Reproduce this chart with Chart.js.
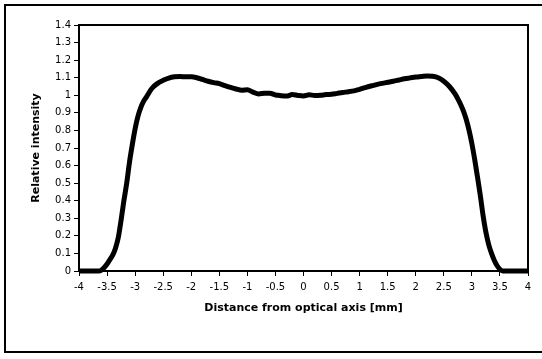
<!DOCTYPE html>
<html>
<head>
<meta charset="utf-8">
<script src="https://cdn.jsdelivr.net/npm/chart.js@4"></script>
<style>
  html, body { margin: 0; padding: 0; background: #fff; }
  body { width: 542px; height: 359px; position: relative; overflow: hidden; }
  #frame { position: absolute; left: 4px; top: 4px; width: 580px; height: 345px; border: 2px solid #000; }
  #wrap { position: absolute; left: 0; top: 0; width: 542px; height: 359px; }
</style>
</head>
<body>
<div id="frame"></div>
<div id="wrap"><canvas id="chart" width="542" height="359"></canvas></div>
<script>
// distance from optical axis [mm]
const distance = [
  -4.0, -3.8, -3.7, -3.65, -3.6, -3.55, -3.5, -3.45, -3.4, -3.35, -3.3, -3.25, -3.2, -3.15, -3.1,
  -3.05, -3.0, -2.95, -2.9, -2.85, -2.8, -2.7, -2.6, -2.5,
  -2.4, -2.3, -2.2, -2.1, -2.0, -1.9, -1.8, -1.7, -1.6, -1.5, -1.4, -1.3, -1.2, -1.1, -1.0,
  -0.9, -0.8, -0.7, -0.6, -0.5, -0.4, -0.3, -0.2, -0.1, 0.0, 0.1, 0.2, 0.3, 0.4, 0.5,
  0.6, 0.7, 0.8, 0.9, 1.0, 1.1, 1.2, 1.3, 1.4, 1.5, 1.6, 1.7, 1.8, 1.9, 2.0,
  2.1, 2.2, 2.3, 2.4, 2.5, 2.6, 2.7, 2.75, 2.8, 2.85, 2.9, 2.95, 3.0, 3.05, 3.1,
  3.15, 3.2, 3.25, 3.3, 3.35, 3.4, 3.45, 3.5, 3.55, 3.6, 3.8, 4.0
];
// relative intensity
const intensity = [
  0, 0, 0, 0, 0.005, 0.02, 0.04, 0.065, 0.09, 0.13, 0.19, 0.29, 0.40, 0.50, 0.62,
  0.72, 0.81, 0.88, 0.93, 0.965, 0.99, 1.04, 1.068, 1.085,
  1.098, 1.105, 1.107, 1.105, 1.105, 1.1, 1.09, 1.08, 1.072, 1.066, 1.055, 1.045, 1.036, 1.029, 1.031,
  1.018, 1.008, 1.011, 1.012, 1.002, 0.998, 0.996, 1.004, 0.999, 0.996, 1.003, 0.999, 1.0, 1.004, 1.006,
  1.011, 1.016, 1.02, 1.025, 1.034, 1.044, 1.053, 1.061, 1.068, 1.074, 1.08, 1.087, 1.094, 1.099, 1.104,
  1.107, 1.11, 1.108, 1.1, 1.08, 1.05, 1.008, 0.98, 0.948, 0.91, 0.862, 0.80, 0.725, 0.635, 0.535,
  0.43, 0.315, 0.22, 0.15, 0.10, 0.06, 0.03, 0.01, 0, 0, 0, 0
];

const xMin = -4, xMax = 4, xStep = 0.5;
const yMin = 0, yMax = 1.4, yStep = 0.1;

const points = distance.map((d, i) => ({ x: d, y: intensity[i] }));

const fontFamily = '"DejaVu Sans", Verdana, sans-serif';

// frame around the plot area (top and right sides too)
const plotBox = {
  id: 'plotBox',
  afterDraw(chart) {
    const a = chart.chartArea;
    const ctx = chart.ctx;
    ctx.save();
    ctx.strokeStyle = '#000';
    ctx.lineWidth = 2;
    ctx.strokeRect(a.left, a.top, a.right - a.left, a.bottom - a.top);
    ctx.restore();
  }
};

const ctx = document.getElementById('chart').getContext('2d');
new Chart(ctx, {
  type: 'line',
  data: {
    datasets: [{
      data: points,
      borderColor: '#000',
      borderWidth: 5,
      pointRadius: 0,
      fill: false,
      cubicInterpolationMode: 'monotone',
      clip: false
    }]
  },
  options: {
    responsive: false,
    animation: false,
    layout: { padding: { left: 0, top: 25, right: 14, bottom: 38 } },
    plugins: { legend: { display: false }, tooltip: { enabled: false } },
    scales: {
      x: {
        type: 'linear',
        min: xMin, max: xMax,
        afterFit: s => { s.height = 50; },
        ticks: {
          stepSize: xStep,
          color: '#000',
          padding: 5,
          maxRotation: 0,
          autoSkip: false,
          font: { family: fontFamily, size: 10 },
          callback: v => String(parseFloat(v.toFixed(1)))
        },
        grid: { drawOnChartArea: false, drawTicks: true, tickLength: 5, tickColor: '#000' },
        border: { color: '#000', width: 2 },
        title: {
          display: true,
          text: 'Distance from optical axis [mm]',
          color: '#000',
          padding: { top: 0, bottom: 6 },
          font: { family: fontFamily, size: 11, weight: 'bold' }
        }
      },
      y: {
        min: yMin, max: yMax,
        afterFit: s => { s.width = 79; },
        ticks: {
          stepSize: yStep,
          color: '#000',
          padding: 3,
          autoSkip: false,
          font: { family: fontFamily, size: 10 },
          callback: v => String(parseFloat(v.toFixed(1)))
        },
        grid: { drawOnChartArea: false, drawTicks: true, tickLength: 5, tickColor: '#000' },
        border: { color: '#000', width: 2 },
        title: {
          display: true,
          text: 'Relative intensity',
          color: '#000',
          padding: { top: 30, bottom: 0 },
          font: { family: fontFamily, size: 11, weight: 'bold' }
        }
      }
    }
  },
  plugins: [plotBox]
});
</script>
</body>
</html>
